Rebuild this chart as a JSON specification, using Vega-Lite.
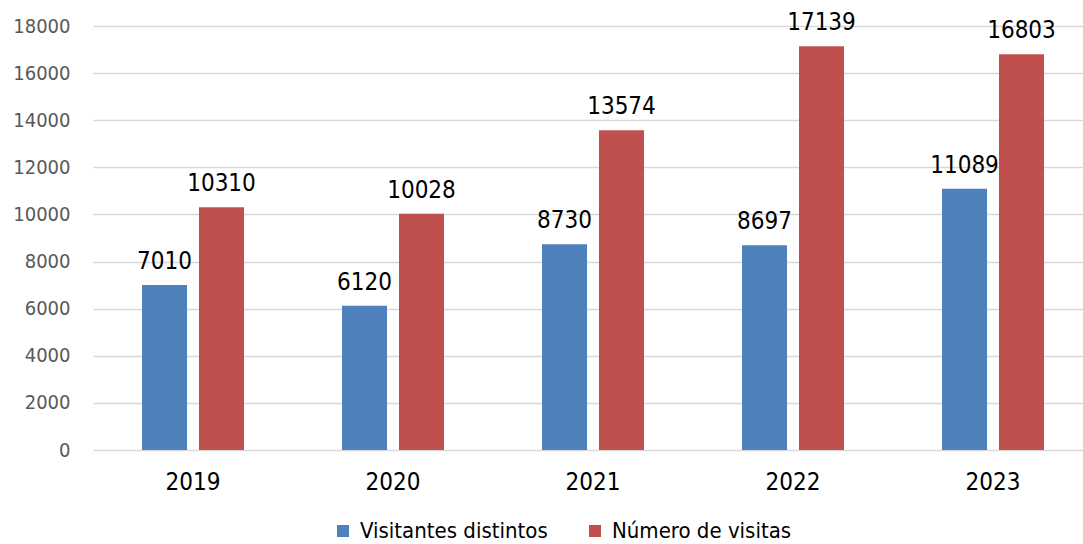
{
  "$schema": "https://vega.github.io/schema/vega-lite/v6.json",
  "width": 990,
  "height": 424,
  "autosize": {"type": "none"},
  "padding": {"left": 93, "top": 26, "right": 0, "bottom": 94},
  "background": "white",
  "config": {
    "font": "DejaVu Sans Condensed",
    "view": {"stroke": null}
  },
  "data": {
    "values": [
      {"year": "2019", "series": "Visitantes distintos", "value": 7010},
      {"year": "2019", "series": "Número de visitas", "value": 10310},
      {"year": "2020", "series": "Visitantes distintos", "value": 6120},
      {"year": "2020", "series": "Número de visitas", "value": 10028},
      {"year": "2021", "series": "Visitantes distintos", "value": 8730},
      {"year": "2021", "series": "Número de visitas", "value": 13574},
      {"year": "2022", "series": "Visitantes distintos", "value": 8697},
      {"year": "2022", "series": "Número de visitas", "value": 17139},
      {"year": "2023", "series": "Visitantes distintos", "value": 11089},
      {"year": "2023", "series": "Número de visitas", "value": 16803}
    ]
  },
  "encoding": {
    "x": {
      "field": "year", "type": "nominal",
      "scale": {"range": [0, 1000], "paddingInner": 0, "paddingOuter": 0},
      "axis": {
        "title": null, "domain": false, "ticks": false, "labelAngle": 0,
        "labelFontSize": 24, "labelColor": "#000000", "labelPadding": 20
      }
    },
    "xOffset": {
      "field": "series", "type": "nominal",
      "sort": ["Visitantes distintos", "Número de visitas"],
      "scale": {"paddingInner": 0.21, "paddingOuter": 0.86}
    },
    "y": {
      "field": "value", "type": "quantitative",
      "scale": {"domain": [0, 18000], "nice": false},
      "axis": {
        "title": null, "domain": false, "ticks": false, "values": [0,2000,4000,6000,8000,10000,12000,14000,16000,18000],
        "labelFontSize": 20, "labelColor": "#595959", "labelPadding": 23,
        "gridColor": "#d9d9d9", "gridWidth": 1.5, "format": "d"
      }
    }
  },
  "layer": [
    {
      "mark": {"type": "bar"},
      "encoding": {
        "color": {
          "field": "series", "type": "nominal",
          "sort": ["Visitantes distintos", "Número de visitas"],
          "scale": {"domain": ["Visitantes distintos", "Número de visitas"], "range": ["#4F81BD", "#C0504D"]},
          "legend": {
            "title": null, "orient": "none", "legendX": 239, "legendY": 494,
            "direction": "horizontal", "columns": 2, "columnPadding": 36,
            "symbolType": "square", "symbolSize": 144, "symbolStrokeWidth": 0,
            "labelFontSize": 22, "labelColor": "#000000", "labelOffset": 6, "labelLimit": 400
          }
        }
      }
    },
    {
      "mark": {"type": "text", "dy": -16, "baseline": "alphabetic", "fontSize": 24, "color": "#000000"},
      "encoding": {
        "text": {"field": "value", "type": "quantitative", "format": "d"}
      }
    }
  ]
}
